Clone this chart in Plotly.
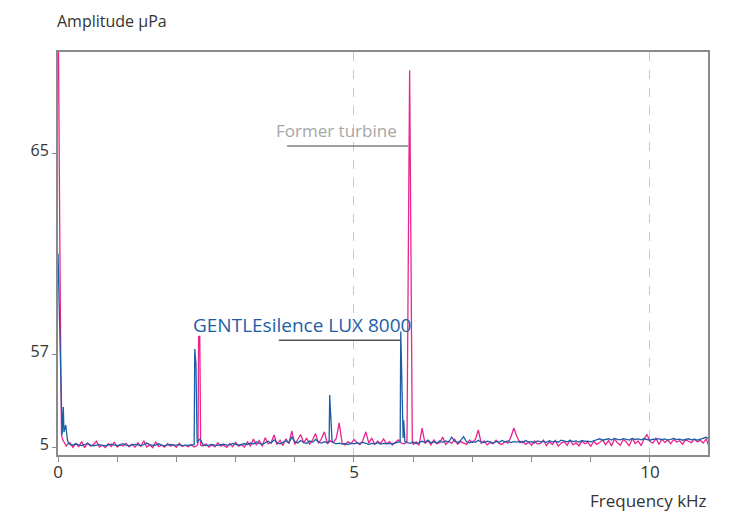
import numpy as np
import plotly.graph_objects as go

# ---------------- data (amplitude in µPa, frequency in kHz) ----------------
grid_start, grid_step = 0.2, 0.05  # baseline sampling grid 0.20 .. 11.00 kHz

blue_base = [
    # 0.20 - 1.15
    6.5, 6.0, 6.8, 6.2, 5.8, 6.4, 7.0, 6.1, 5.7, 6.0, 6.3, 5.9, 5.6, 6.2, 6.6, 6.0, 5.8, 6.3, 6.9, 6.1,
    # 1.20 - 2.15
    5.8, 6.0, 6.5, 6.2, 5.7, 6.4, 7.2, 6.3, 5.9, 6.1, 6.8, 6.0, 5.6, 6.2, 6.5, 5.9, 6.0, 6.3, 5.8, 6.1,
    # 2.20 - 3.15
    6.0, 6.1, 6.3, 7.5, 9.5, 6.2, 5.8, 6.0, 6.4, 6.1, 5.9, 6.3, 6.6, 6.0, 6.2, 7.0, 6.4, 6.0, 6.5, 6.8,
    # 3.20 - 4.15
    6.4, 7.2, 6.6, 7.8, 7.0, 6.5, 7.4, 8.2, 7.1, 9.0, 7.5, 6.8, 7.6, 8.5, 7.2, 10.5, 8.0, 7.3, 8.6, 7.5,
    # 4.20 - 5.15
    7.0, 8.3, 7.6, 9.2, 7.8, 7.2, 8.0, 7.4, 27.0, 7.5, 6.8, 7.2, 6.6, 7.0, 6.4, 7.1, 6.8, 7.3, 6.9, 7.6,
    # 5.20 - 6.15
    7.2, 6.5, 7.0, 6.8, 7.4, 6.6, 7.0, 6.9, 7.2, 6.7, 7.3, 7.8, 53.6, 13.9, 7.5, 7.0, 7.8, 6.9, 7.4, 8.2,
    # 6.20 - 7.15
    7.6, 8.8, 7.4, 7.9, 7.2, 8.5, 7.6, 8.4, 7.8, 10.5, 8.2, 7.5, 8.6, 10.8, 7.9, 7.3, 8.0, 7.6, 8.8, 7.7,
    # 7.20 - 8.15
    7.5, 8.3, 7.8, 7.2, 8.1, 7.6, 8.7, 7.9, 8.4, 7.5, 8.0, 7.7, 8.2, 7.4, 8.6, 7.8, 8.0, 7.3, 8.4, 7.9,
    # 8.20 - 9.15
    8.1, 7.6, 8.5, 7.9, 8.3, 7.7, 8.8, 8.2, 7.9, 8.6, 8.0, 8.4, 7.8, 8.7, 8.1, 8.3, 7.9, 8.5, 8.9, 9.6,
    # 9.20 - 10.15
    8.8, 9.2, 9.6, 8.9, 9.8, 9.3, 9.0, 9.7, 9.4, 8.9, 9.8, 9.2, 9.5, 9.0, 9.6, 9.3, 8.8, 9.4, 9.1, 9.7,
    # 10.20 - 11.00
    9.0, 9.5, 8.9, 9.3, 9.8, 9.1, 9.4, 8.8, 9.2, 9.6, 9.0, 9.4, 8.9, 9.3, 9.9, 10.4, 9.2,
]

pink_base = [
    # 0.20 - 1.15
    7.5, 4.8, 6.9, 5.2, 8.0, 4.6, 7.2, 5.5, 6.4, 8.3, 5.0, 6.0, 4.7, 6.8, 5.3, 7.6, 4.9, 6.2, 5.6, 7.0,
    # 1.20 - 2.15
    5.1, 6.6, 4.8, 7.3, 5.4, 8.5, 5.0, 6.2, 4.6, 7.8, 5.2, 6.0, 4.9, 6.9, 5.5, 6.3, 4.8, 7.1, 5.3, 6.0,
    # 2.20 - 3.15
    5.2, 6.4, 5.0, 5.8, 46.5, 5.5, 6.8, 4.9, 6.2, 5.1, 7.4, 5.6, 6.0, 4.8, 6.9, 5.2, 7.6, 5.5, 6.4, 5.0,
    # 3.20 - 4.15
    7.8, 5.6, 9.4, 6.2, 8.6, 5.4, 10.2, 6.8, 7.5, 11.7, 6.4, 8.8, 5.8, 9.6, 7.0, 14.0, 6.5, 9.2, 12.0, 7.2,
    # 4.20 - 5.15
    10.0, 6.6, 8.9, 12.5, 7.0, 9.6, 13.5, 6.8, 8.4, 7.4, 9.8, 18.5, 7.0, 6.2, 8.0, 6.8, 9.2, 7.5, 6.4, 8.6,
    # 5.20 - 6.15
    13.5, 7.2, 10.0, 6.5, 8.3, 7.0, 9.5, 6.8, 8.0, 6.2, 7.8, 9.0, 7.2, 6.8, 30.7, 65.0, 6.5, 7.8, 6.0, 15.6,
    # 6.20 - 7.15
    7.0, 8.5, 6.2, 9.0, 6.8, 7.5, 10.5, 6.4, 8.2, 7.0, 9.4, 6.6, 8.0, 7.2, 6.5, 8.8, 7.6, 9.2, 14.5, 7.0,
    # 7.20 - 8.15
    8.4, 6.2, 7.5, 6.8, 8.8, 7.0, 6.4, 8.0, 7.2, 10.5, 15.6, 11.0, 7.4, 8.2, 6.5, 7.6, 6.0, 8.3, 6.6, 7.0,
    # 8.20 - 9.15
    8.9, 5.8, 7.9, 6.4, 8.6, 5.5, 7.2, 8.0, 5.9, 8.8, 6.2, 7.4, 5.6, 8.3, 6.8, 7.6, 5.4, 8.2, 6.5, 7.5,
    # 9.20 - 10.15
    9.0, 6.2, 8.6, 5.6, 9.5, 7.4, 6.0, 9.2, 7.8, 5.5, 9.8, 7.0, 8.4, 5.8, 9.6, 12.0, 8.0, 7.2, 10.2, 6.4,
    # 10.20 - 11.00
    9.4, 7.6, 8.8, 6.8, 9.2, 7.8, 8.5, 6.6, 9.0, 8.2, 7.4, 9.3, 8.0, 8.7, 7.2, 9.5, 5.0,
]

# extra (off-grid) samples: the low-frequency rise and the narrow tonal peaks
blue_peak_freq = [0.0, 0.02, 0.04, 0.05, 0.07, 0.09, 0.10, 0.13, 0.16, 0.18,
                  2.31, 2.33, 4.58, 4.59, 4.61, 4.63, 5.78, 5.79, 5.81, 5.83, 5.84, 5.86]
blue_peak_amp = [61.0, 58.5, 55.0, 36.8, 12.0, 27.3, 13.4, 17.3, 8.9, 7.0,
                 57.2, 52.0, 8.5, 34.0, 20.0, 8.0, 8.0, 57.9, 38.0, 10.0, 20.0, 8.0]

pink_peak_freq = [0.0, 0.015, 0.03, 0.05, 0.06, 0.08, 0.11, 0.14, 0.17,
                  2.365, 2.375, 2.395, 2.41, 5.895, 5.94, 5.985]
pink_peak_amp = [72.0, 64.0, 61.7, 40.0, 11.7, 9.0, 7.5, 5.5, 7.0,
                 7.0, 57.7, 57.7, 6.0, 8.0, 68.3, 8.0]

y_tick_values = [5, 57, 65]
x_tick_values = [0, 5, 10]

# ---------------- helpers ----------------
# the printed amplitude scale is non-linear; map amplitude -> display height
scale_amp = [0, 5, 57, 65, 75]
scale_pos = [0, 8, 101, 302, 553]


def to_disp(a):
    return np.interp(np.asarray(a, dtype=float), scale_amp, scale_pos)


def build(base, pf, pa):
    gf = grid_start + grid_step * np.arange(len(base))
    f = np.concatenate([gf, np.asarray(pf, float)])
    a = np.concatenate([np.asarray(base, float), np.asarray(pa, float)])
    order = np.argsort(f, kind="stable")
    return f[order], a[order]


bf, ba = build(blue_base, blue_peak_freq, blue_peak_amp)
pf_, pa_ = build(pink_base, pink_peak_freq, pink_peak_amp)

BLUE = "#1c5ea6"
PINK = "#e8248f"
FONT = "Open Sans"
TXT = "#333333"

fig = go.Figure()
fig.add_trace(go.Scatter(x=pf_, y=to_disp(pa_), mode="lines",
                         line=dict(color=PINK, width=1.3), name="Former turbine",
                         hoverinfo="skip"))
fig.add_trace(go.Scatter(x=bf, y=to_disp(ba), mode="lines",
                         line=dict(color=BLUE, width=1.3), name="GENTLEsilence LUX 8000",
                         hoverinfo="skip"))

fig.update_layout(
    width=741, height=513,
    margin=dict(l=58, r=33, t=52, b=58, autoexpand=False),
    paper_bgcolor="white", plot_bgcolor="white",
    showlegend=False,
    font=dict(family=FONT, size=15, color=TXT),
)

fig.update_xaxes(
    range=[0, 10.98],
    tickvals=x_tick_values, ticktext=[str(v) for v in x_tick_values],
    ticks="outside", ticklen=5, tickcolor="#8a8a8a", tickwidth=1,
    showline=True, linecolor="#8a8a8a", linewidth=2, mirror=True,
    showgrid=True, gridcolor="#c8c8c8", griddash="dash", gridwidth=1,
    zeroline=False,
    minor=dict(tick0=0, dtick=1, ticks="outside", ticklen=5, tickcolor="#8a8a8a", showgrid=False),
    tickfont=dict(size=17, color=TXT),
    ticklabelstandoff=-4,
)
fig.update_yaxes(
    range=[0, 403],
    tickvals=list(to_disp(y_tick_values)), ticktext=[str(v) for v in y_tick_values],
    ticks="outside", ticklen=4, tickcolor="#8a8a8a",
    showline=True, linecolor="#8a8a8a", linewidth=2, mirror=True,
    showgrid=False, zeroline=False,
    tickfont=dict(size=16, color=TXT),
    ticklabelshift=-3,
)

# axis titles
fig.add_annotation(text="Amplitude µPa", xref="paper", yref="paper", x=0, y=1,
                   xanchor="left", yanchor="bottom", yshift=18, xshift=-3, showarrow=False,
                   font=dict(size=16, color=TXT))
fig.add_annotation(text="Frequency kHz", xref="paper", yref="paper", x=1, y=0,
                   xanchor="right", yanchor="top", yshift=-32, xshift=1, showarrow=False,
                   font=dict(size=17, color=TXT))

# callouts
fig.add_annotation(text="Former turbine", xref="x", yref="paper", x=5.76, y=0.806,
                   xanchor="right", yanchor="middle", showarrow=False,
                   font=dict(size=17, color="#a6a6a6"))
fig.add_shape(type="line", xref="x", yref="paper", x0=3.87, x1=5.91, y0=0.767, y1=0.767,
              line=dict(color="#7f7f7f", width=1.5))
fig.add_annotation(text="GENTLEsilence LUX 8000", xref="x", yref="paper", x=6.0, y=0.323,
                   xanchor="right", yanchor="middle", showarrow=False,
                   font=dict(size=19, color=BLUE))
fig.add_shape(type="line", xref="x", yref="paper", x0=3.73, x1=5.78, y0=0.285, y1=0.285,
              line=dict(color="#555555", width=1.5))

fig.write_html("out.html", config={"displayModeBar": False},
               post_script="document.body.style.margin='0';")
